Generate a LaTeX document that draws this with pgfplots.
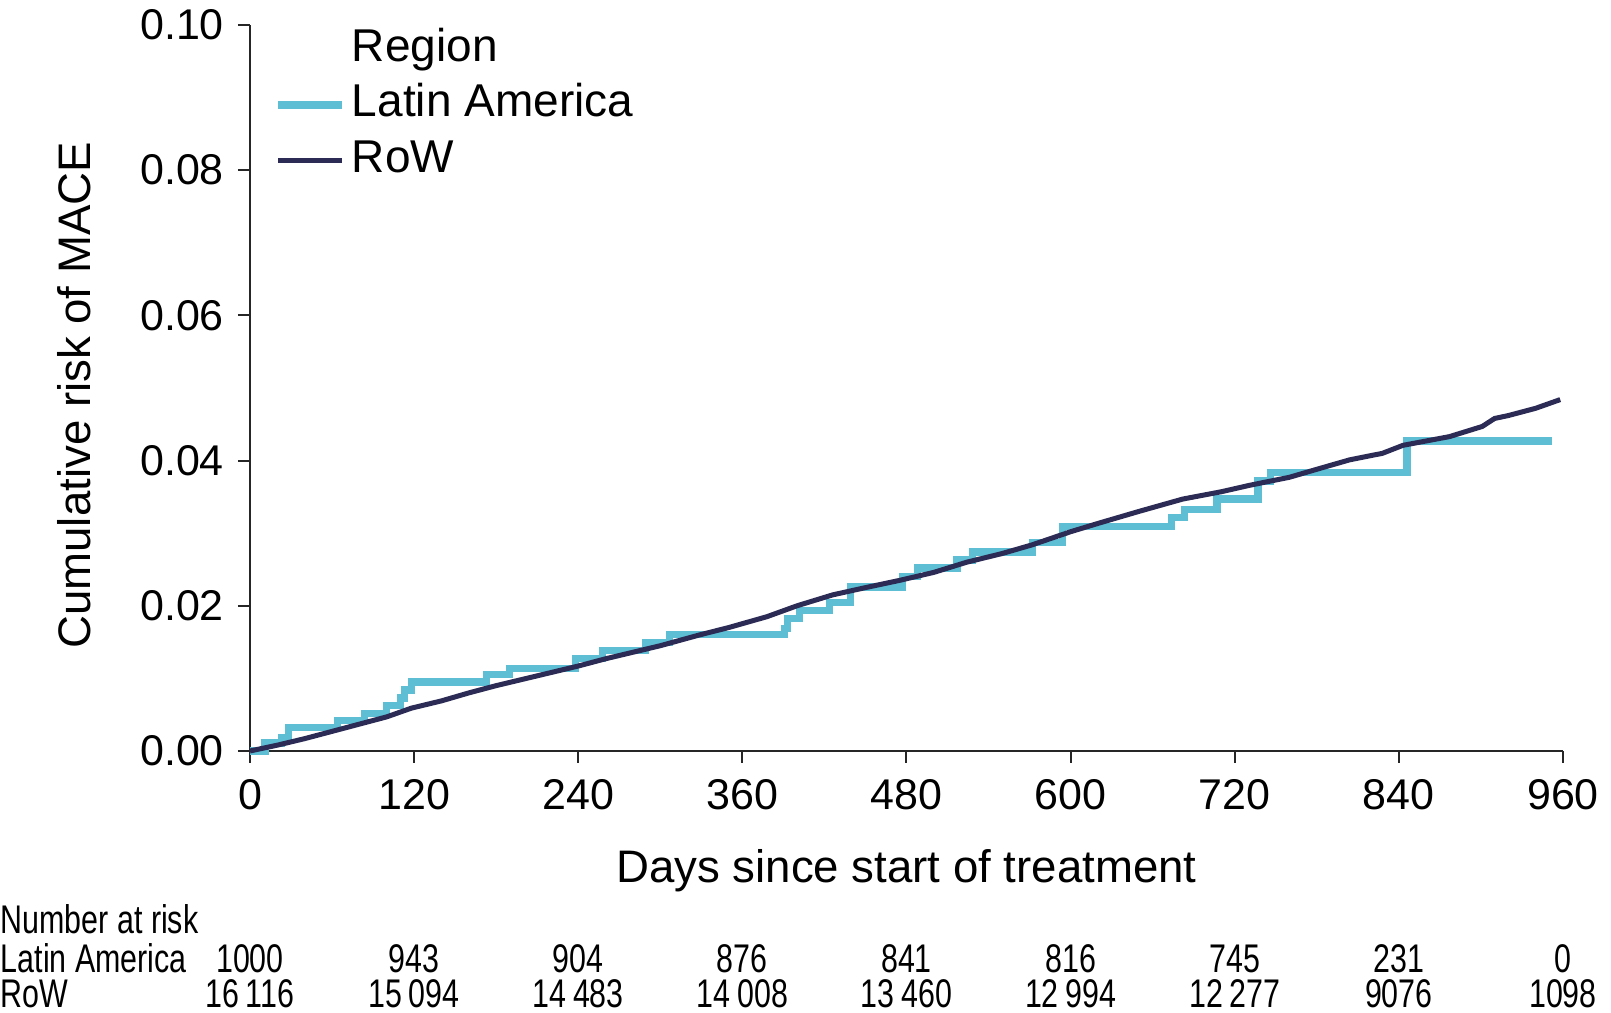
\documentclass[border=0pt]{standalone}
\usepackage{fontspec}
\setmainfont{Liberation Sans}
\newfontfamily\narrowfont[FakeStretch=0.76]{Liberation Sans}
\usepackage{pgfplots}
\pgfplotsset{compat=1.18}
\definecolor{latam}{RGB}{93,190,212}
\definecolor{row}{RGB}{43,43,85}
\newcommand{\tabfont}{\narrowfont\fontsize{10}{12}\selectfont}

\begin{document}
\begin{tikzpicture}
\path[use as bounding box] (-62.5pt,-65.5pt) rectangle (340.25pt,187.75pt);
\begin{axis}[
  at={(0,0)}, anchor=south west,
  scale only axis,
  width=328.25pt, height=181.5pt,
  xmin=0, xmax=960, ymin=0, ymax=0.1,
  axis x line*=bottom, axis y line*=left,
  axis line style={-, line width=0.5pt, black!85},
  tick align=outside, major tick length=3pt,
  tick style={line width=0.5pt, black!85},
  xtick={0,120,...,960},
  ytick={0,0.02,...,0.1},
  yticklabel style={/pgf/number format/fixed, /pgf/number format/fixed zerofill, /pgf/number format/precision=2},
  /pgf/number format/assume math mode=true,
  ticklabel style={font=\fontsize{10.75}{12}\selectfont},
  xticklabel style={yshift=-0.7pt},
  scaled y ticks=false,
  xlabel={Days since start of treatment},
  ylabel={Cumulative risk of MACE},
  label style={font=\fontsize{11.4}{13}\selectfont},
  xlabel style={at={(axis description cs:0.5,-0.165)}, anchor=center},
  ylabel style={at={(axis description cs:-0.134,0.49)}, anchor=center},
  clip=false,
  legend cell align=left,
  legend image code/.code={\draw[#1] (0pt,0pt) -- (16pt,0pt);},
  legend style={draw=none, fill=none, at={(rel axis cs:0,1)}, anchor=north west,
    xshift=6pt, yshift=0.9pt, font=\fontsize{11.5}{13}\selectfont,
    row sep=0pt, inner sep=0pt,
    nodes={inner sep=1.5pt, text height=8.4pt, text depth=2.4pt}},
]
\addlegendimage{empty legend}
\addlegendentry{Region}

\addplot[const plot, color=latam, line width=1.8pt] coordinates {
 (0,0) (11,0.0011) (23,0.0019) (28,0.0032) (64,0.0042) (84,0.0052)
 (100,0.0063) (110,0.0073) (113,0.0084) (118,0.0095) (173,0.0105)
 (190,0.0114) (238,0.0127) (258,0.0138) (289,0.0149) (307,0.0160)
 (391,0.0169) (393,0.0182) (402,0.0194) (424,0.0204) (439,0.0226)
 (477,0.0240) (488,0.0252) (517,0.0263) (528,0.0274) (572,0.0287)
 (594,0.0309) (674,0.0322) (683,0.0333) (707,0.0347) (737,0.0372)
 (746,0.0384) (846,0.0427) (952,0.0427)
};
\addlegendentry{Latin America}

\addplot[color=row, line width=1.25pt] coordinates {
 (0,0) (20,0.0008) (40,0.0017) (60,0.0027) (80,0.0037) (100,0.0047)
 (118,0.0059) (140,0.0069) (160,0.0080) (180,0.0090) (200,0.0099)
 (220,0.0108) (240,0.0117) (260,0.0127) (280,0.0136) (300,0.0145)
 (329,0.0160) (350,0.0170) (378,0.0185) (400,0.0200) (426,0.0215)
 (450,0.0225) (475,0.0235) (500,0.0246) (524,0.0260) (550,0.0272)
 (572,0.0284) (600,0.0302) (621,0.0314) (650,0.0330) (682,0.0347)
 (710,0.0357) (731,0.0366) (760,0.0377) (780,0.0388) (804,0.0401)
 (828,0.0410) (843,0.0421) (877,0.0433) (901,0.0447) (910,0.0458)
 (920,0.0462) (940,0.0472) (958,0.0484)
};
\addlegendentry{RoW}

% number at risk table
\node[font=\tabfont, anchor=mid west, inner sep=0pt] at (rel axis cs:0,0) [xshift=-62.5pt, yshift=-43pt] {Number at risk};
\node[font=\tabfont, anchor=mid west, inner sep=0pt] at (rel axis cs:0,0) [xshift=-62.5pt, yshift=-52.7pt] {Latin America};
\node[font=\tabfont, anchor=mid west, inner sep=0pt] at (rel axis cs:0,0) [xshift=-62.5pt, yshift=-61.6pt] {RoW};
\node[font=\tabfont, anchor=mid] at (axis cs:0,0) [yshift=-52.7pt] {1000};
\node[font=\tabfont, anchor=mid] at (axis cs:120,0) [yshift=-52.7pt] {943};
\node[font=\tabfont, anchor=mid] at (axis cs:240,0) [yshift=-52.7pt] {904};
\node[font=\tabfont, anchor=mid] at (axis cs:360,0) [yshift=-52.7pt] {876};
\node[font=\tabfont, anchor=mid] at (axis cs:480,0) [yshift=-52.7pt] {841};
\node[font=\tabfont, anchor=mid] at (axis cs:600,0) [yshift=-52.7pt] {816};
\node[font=\tabfont, anchor=mid] at (axis cs:720,0) [yshift=-52.7pt] {745};
\node[font=\tabfont, anchor=mid] at (axis cs:840,0) [yshift=-52.7pt] {231};
\node[font=\tabfont, anchor=mid] at (axis cs:960,0) [yshift=-52.7pt] {0};
\node[font=\tabfont, anchor=mid] at (axis cs:0,0) [yshift=-61.6pt] {16\,116};
\node[font=\tabfont, anchor=mid] at (axis cs:120,0) [yshift=-61.6pt] {15\,094};
\node[font=\tabfont, anchor=mid] at (axis cs:240,0) [yshift=-61.6pt] {14\,483};
\node[font=\tabfont, anchor=mid] at (axis cs:360,0) [yshift=-61.6pt] {14\,008};
\node[font=\tabfont, anchor=mid] at (axis cs:480,0) [yshift=-61.6pt] {13\,460};
\node[font=\tabfont, anchor=mid] at (axis cs:600,0) [yshift=-61.6pt] {12\,994};
\node[font=\tabfont, anchor=mid] at (axis cs:720,0) [yshift=-61.6pt] {12\,277};
\node[font=\tabfont, anchor=mid] at (axis cs:840,0) [yshift=-61.6pt] {9076};
\node[font=\tabfont, anchor=mid] at (axis cs:960,0) [yshift=-61.6pt] {1098};
\end{axis}
\end{tikzpicture}
\end{document}
